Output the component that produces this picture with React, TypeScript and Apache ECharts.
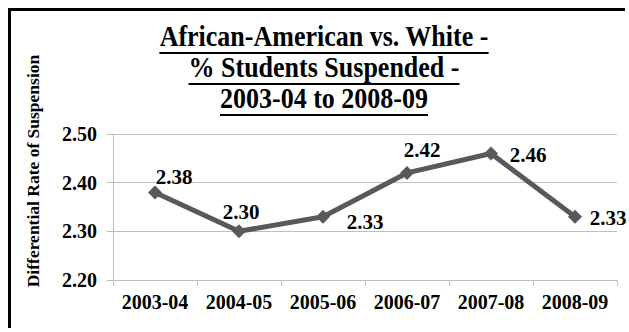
import React, { useEffect, useRef } from "react";
import * as echarts from "echarts";

// School years on the category axis
const categories = ["2003-04", "2004-05", "2005-06", "2006-07", "2007-08", "2008-09"];
// Differential rate of suspension (African-American vs. White)
const rates = [2.38, 2.3, 2.33, 2.42, 2.46, 2.33];
// Value axis ticks
const yTicks = [2.2, 2.3, 2.4, 2.5];

const titleLines = [
  "African-American vs. White -",
  "% Students Suspended -",
  "2003-04 to 2008-09",
];
const yAxisTitle = "Differential Rate of Suspension";

// Per-point label nudges (px) relative to the marker centre
const labelOffsets = [
  [19, -15],
  [2, -19],
  [42, 5],
  [15, -23],
  [37, 2],
  [33, 1],
];

const SERIF = "serif";
const W = 629;
const H = 332;

function measure(text: string, font: string): number {
  const c = document.createElement("canvas");
  const ctx = c.getContext("2d");
  if (!ctx) return text.length * 12;
  ctx.font = font;
  return ctx.measureText(text).width;
}

export default function App() {
  const ref = useRef<HTMLDivElement>(null);

  useEffect(() => {
    if (!ref.current) return;
    const chart = echarts.init(ref.current, undefined, { renderer: "svg" });

    const titleSize = 26;
    const titleScaleY = 1.1;
    const titleCx = 324;
    const titleYs = [37, 68, 99];

    const titleGraphics: any[] = [];
    titleLines.forEach((line, i) => {
      const w = measure(line, `bold ${titleSize}px ${SERIF}`);
      titleGraphics.push({
        type: "text",
        x: titleCx,
        y: titleYs[i],
        scaleY: titleScaleY,
        style: {
          text: line,
          x: 0,
          y: 0,
          fill: "#000",
          fontFamily: SERIF,
          fontWeight: "bold",
          fontSize: titleSize,
          textAlign: "center",
          textVerticalAlign: "middle",
        },
      });
      const uy = titleYs[i] + 16;
      titleGraphics.push({
        type: "line",
        shape: { x1: titleCx - w / 2, y1: uy, x2: titleCx + w / 2, y2: uy },
        style: { stroke: "#000", lineWidth: 2 },
      });
    });

    const option: any = {
      animation: false,
      backgroundColor: "#fff",
      grid: { left: 113, right: 12, top: 134, bottom: 52, containLabel: false },
      xAxis: {
        type: "category",
        data: categories,
        boundaryGap: true,
        axisLine: { show: true, lineStyle: { color: "#bfbfbf", width: 1 } },
        axisTick: { show: true, length: 6, lineStyle: { color: "#bfbfbf" } },
        axisLabel: {
          interval: 0,
          color: "#000",
          fontFamily: SERIF,
          fontWeight: "bold",
          fontSize: 20,
          margin: 12,
        },
      },
      yAxis: {
        type: "value",
        min: yTicks[0],
        max: yTicks[yTicks.length - 1],
        interval: 0.1,
        axisLine: { show: true, lineStyle: { color: "#bfbfbf", width: 1 } },
        axisTick: { show: true, length: 6, lineStyle: { color: "#bfbfbf" } },
        splitLine: { show: true, lineStyle: { color: "#bfbfbf", width: 1 } },
        axisLabel: {
          color: "#000",
          fontFamily: SERIF,
          fontWeight: "bold",
          fontSize: 20,
          margin: 16,
          formatter: (v: number) => v.toFixed(2),
        },
      },
      series: [
        {
          type: "line",
          data: rates.map((v, i) => ({
            value: v,
            label: { offset: labelOffsets[i] },
          })),
          symbol: "diamond",
          symbolSize: 14,
          lineStyle: { color: "#595959", width: 5 },
          itemStyle: { color: "#595959" },
          label: {
            show: true,
            position: "inside",
            color: "#000",
            fontFamily: SERIF,
            fontWeight: "bold",
            fontSize: 21,
            formatter: (p: any) => Number(p.value).toFixed(2),
          },
        },
      ],
      graphic: [
        // chart frame: left and top edges
        {
          type: "line",
          shape: { x1: 9.5, y1: 8, x2: 9.5, y2: H - 4 },
          style: { stroke: "#000", lineWidth: 3 },
          z: 10,
        },
        {
          type: "line",
          shape: { x1: 8, y1: 9.5, x2: W - 4, y2: 9.5 },
          style: { stroke: "#000", lineWidth: 3 },
          z: 10,
        },
        {
          type: "text",
          x: 33,
          y: 171,
          rotation: Math.PI / 2,
          style: {
            text: yAxisTitle,
            x: 0,
            y: 0,
            fill: "#000",
            fontFamily: SERIF,
            fontWeight: "bold",
            fontSize: 17.5,
            textAlign: "center",
            textVerticalAlign: "middle",
          },
        },
        ...titleGraphics,
      ],
    };

    chart.setOption(option);
    return () => chart.dispose();
  }, []);

  return (
    <div
      ref={ref}
      style={{ position: "absolute", left: 0, top: 0, width: W, height: H }}
    />
  );
}
